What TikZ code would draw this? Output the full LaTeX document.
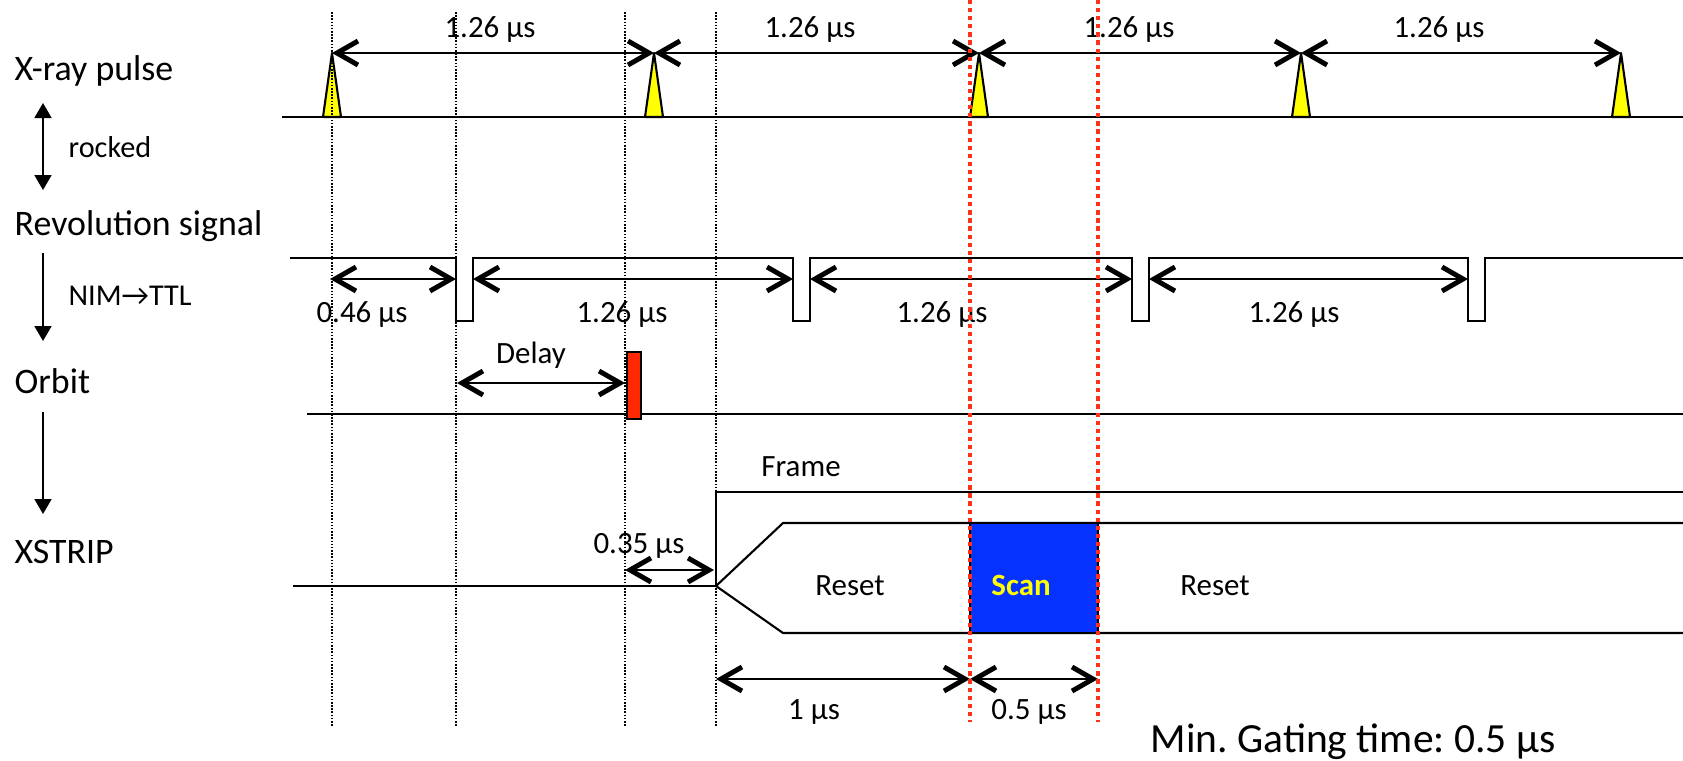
\documentclass[tikz,border=0pt]{standalone}
\usepackage{fontspec}
\setmainfont{Carlito}
\usetikzlibrary{arrows.meta,positioning}

\definecolor{pulseyellow}{RGB}{255,255,0}
\definecolor{orbitred}{RGB}{255,40,0}
\definecolor{scanblue}{RGB}{5,50,255}
\definecolor{gatered}{RGB}{255,50,30}

\begin{document}
\frenchspacing
\begin{tikzpicture}[x=0.01cm, y=-0.01cm,
    every node/.style={inner sep=0pt},
    lbl/.style={font=\fontsize{10.2}{12}\selectfont, anchor=base west},
    note/.style={font=\fontsize{8.6}{10}\selectfont, anchor=base west},
    val/.style={font=\fontsize{8.8}{10}\selectfont, anchor=base},
    sig/.style={line width=0.6pt},
    dim/.style={line width=0.6pt, {Straight Barb[length=2.1mm,width=2.4mm,line width=1.4pt]}-{Straight Barb[length=2.1mm,width=2.4mm,line width=1.4pt]}},
    flow/.style={line width=0.5pt, -{Triangle[length=1.5mm,width=1.7mm]}},
    guide/.style={line width=0.45pt, dash pattern=on 0.45pt off 0.45pt},
    gate/.style={gatered, line width=1pt, dash pattern=on 1.2pt off 1.1pt}]

    \useasboundingbox (0,0) rectangle (1683,760);

    % Row labels
    \node[lbl] (xray) at (14,80) {X-ray pulse};
    \node[note] (rocked) at (68,157) {rocked};
    \node[lbl] (rev) at (14,235) {Revolution signal};
    \node[note] (nim) at (68,305) {NIM→TTL};
    \node[lbl] (orbit) at (14,393) {Orbit};
    \node[lbl] (xstrip) at (14,563) {XSTRIP};

    \coordinate (a1) at (43,103); \coordinate (a2) at (43,190);
    \coordinate (a3) at (43,253); \coordinate (a4) at (43,341);
    \coordinate (a5) at (43,412); \coordinate (a6) at (43,514);
    \draw[flow, {Triangle[length=1.5mm,width=1.7mm]}-{Triangle[length=1.5mm,width=1.7mm]}] (a1) -- (a2);
    \draw[flow] (a3) -- (a4);
    \draw[flow] (a5) -- (a6);

    % X-ray pulses
    \draw[sig] (282,117) -- (1683,117);
    \foreach \x [count=\i] in {332,654,979,1301,1621} {
        \draw[fill=pulseyellow, line width=0.6pt, line join=round] (\x-9,117) -- (\x,53) -- (\x+9,117) -- cycle;
        \coordinate (p\i) at (\x,53);
    }
    \foreach \i/\j/\x in {1/2/490,2/3/810,3/4/1129,4/5/1439} {
        \draw[dim] (p\i) -- (p\j);
        \node[val] (tp\i) at (\x,37) {1.26 µs};
    }

    % Revolution signal
    \draw[sig] (290,258) foreach \n in {456,793,1132,1468} { -- (\n,258) -- (\n,321) -- (\n+17,321) -- (\n+17,258) } -- (1683,258);
    \coordinate (r0) at (330,279);
    \foreach \n [count=\i] in {456,793,1132,1468} {
        \coordinate (rl\i) at (\n,279);
        \coordinate (rr\i) at (\n+17,279);
    }
    \draw[dim] (r0) -- (rl1);
    \draw[dim] (rr1) -- (rl2);
    \draw[dim] (rr2) -- (rl3);
    \draw[dim] (rr3) -- (rl4);
    \node[val] (rv0) at (362,322) {0.46 µs};
    \node[val] (rv1) at (622,322) {1.26 µs};
    \node[val] (rv2) at (942,322) {1.26 µs};
    \node[val] (rv3) at (1294,322) {1.26 µs};

    % Orbit
    \draw[sig] (307,414) -- (1683,414);
    \draw[fill=orbitred, line width=0.7pt] (627,352) rectangle (641,419);
    \coordinate (d0) at (457,383); \coordinate (d1) at (625,383);
    \draw[dim] (d0) -- (d1);
    \node[val] (delay) at (531,363) {Delay};

    % XSTRIP frame, reset and scan
    \draw[sig] (716,586) -- (716,492) -- (1683,492);
    \node[val] (frame) at (801,476) {Frame};
    \draw[sig] (293,586) -- (716,586);
    \draw[sig] (716,586) -- (783,523) -- (1683,523);
    \draw[sig] (716,586) -- (783,633) -- (1683,633);
    \draw[fill=scanblue, line width=0.6pt] (970,523) rectangle (1098,633);
    \node[val] (reset1) at (850,595) {Reset};
    \node[val, text=pulseyellow, font=\fontsize{8.8}{10}\selectfont\bfseries] (scan) at (1021,595) {Scan};
    \node[val] (reset2) at (1215,595) {Reset};

    \coordinate (s0) at (625,570); \coordinate (s1) at (714,570);
    \draw[dim] (s0) -- (s1);
    \node[val] (wait) at (639,553) {0.35 µs};

    \coordinate (b0) at (716,679); \coordinate (b1) at (970,679); \coordinate (b2) at (1098,679);
    \draw[dim] (b0) -- (b1);
    \draw[dim] (b1) -- (b2);
    \node[val] (reset) at (814,719) {1 µs};
    \node[val] (gate) at (1029,719) {0.5 µs};

    \node[font=\fontsize{11.8}{14}\selectfont, anchor=base] (gating) at (1353,752) {Min. Gating time: 0.5 µs};

    % Guides
    \foreach \x in {332,456,625,716}
        \draw[guide] (\x,12) -- (\x,727);
    \foreach \x in {970,1098}
        \draw[gate] (\x,0) -- (\x,722);
\end{tikzpicture}
\end{document}
